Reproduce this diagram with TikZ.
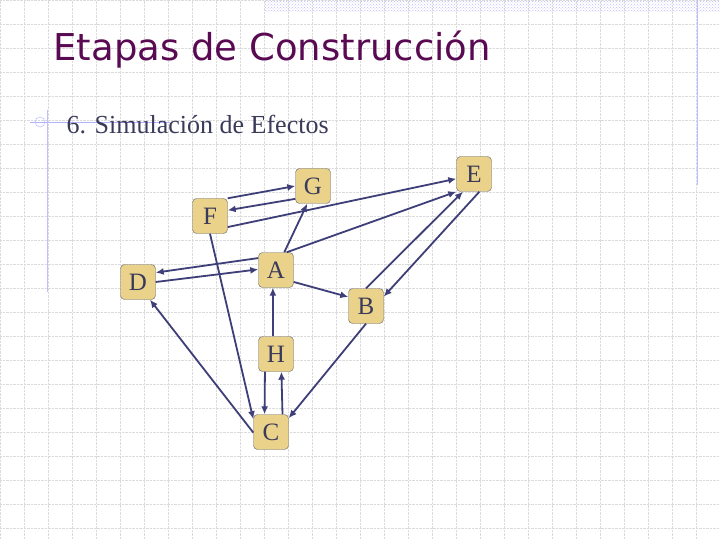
\documentclass[tikz,border=0pt]{standalone}
\usepackage{fontspec}
\setmainfont{Liberation Serif}
\newfontfamily\titlefont{DejaVu Sans}
\usetikzlibrary{arrows.meta,patterns}
\definecolor{boxfill}{HTML}{EAD28A}
\definecolor{edgec}{HTML}{3E3E78}
\definecolor{titlec}{HTML}{5A0A52}
\definecolor{textc}{HTML}{3A3A5A}
\begin{document}
\begin{tikzpicture}[x=1pt,y=-1pt,
  nd/.style={draw=black!60,fill=boxfill,rounded corners=4pt,minimum width=35pt,minimum height=35pt,inner sep=0pt,font=\fontsize{25}{25}\selectfont,text=textc},
  ed/.style={draw=edgec,line width=1.8pt,-{Latex[length=8pt,width=7pt]}}]
\useasboundingbox (0,0) rectangle (720,540);
\fill[white] (0,0) rectangle (720,540);
\draw[black!14,densely dotted,step=24pt] (0,0) grid (720,540);
\fill[pattern=crosshatch dots,pattern color=blue!25] (265,0) rectangle (720,12);
\draw[blue!25,line width=0.8pt] (697,0) -- (697,185);
\draw[blue!25,line width=0.8pt] (47,110) -- (47,292);
\draw[blue!30,line width=0.8pt] (30,122) -- (170,122);
\draw[blue!30] (40,122) circle (5pt);
\node[anchor=west,font=\titlefont\fontsize{37}{37}\selectfont,text=titlec] (title) at (50,50) {Etapas de Construcción};
\node[anchor=west,font=\fontsize{26}{26}\selectfont,text=textc] (sub) at (63,125) {6. Simulación de Efectos};
\node[nd] (G) at (313,186) {G};
\node[nd] (E) at (474,174) {E};
\node[nd] (F) at (210,216) {F};
\node[nd] (D) at (138,282) {D};
\node[nd] (A) at (276,270) {A};
\node[nd] (B) at (366,306) {B};
\node[nd] (H) at (276,354) {H};
\node[nd] (C) at (271,432) {C};
\draw[ed] (F.45) -- (G.180);
\draw[ed] (G.216) -- (F.18);
\draw[ed] (F.328) -- (E.195);
\draw[ed] (A.59) -- (E.225);
\draw[ed] (B.90) -- (E.238);
\draw[ed] (E.287) -- (B.28);
\draw[ed] (A.65) -- (G.252);
\draw[ed] (A.146) -- (D.28);
\draw[ed] (D.0) -- (A.178);
\draw[ed] (A.326) -- (B.153);
\draw[ed] (H.100) -- (A.260);
\draw[ed] (H.238) -- (C.110);
\draw[ed] (C.57) -- (H.287);
\draw[ed] (F.270) -- (C.144);
\draw[ed] (C.182) -- (D.304);
\draw[ed] (B.270) -- (C.38);
\end{tikzpicture}
\end{document}
